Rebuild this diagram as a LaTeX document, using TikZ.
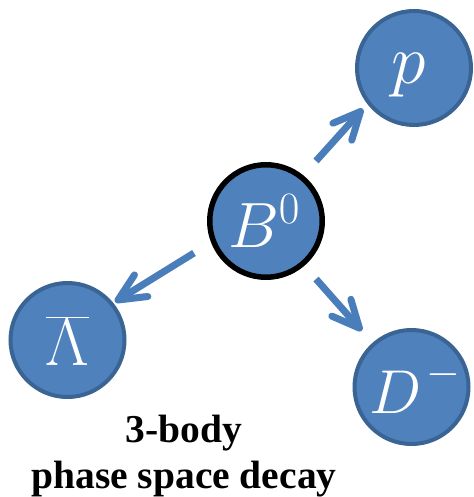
\RequirePackage{fix-cm}
\documentclass[tikz,border=0pt]{standalone}
\usepackage{fontspec}
\setmainfont{Liberation Serif}
\usetikzlibrary{calc}

\definecolor{ballfill}{HTML}{4F81BD}
\definecolor{ballring}{HTML}{3A6494}
\definecolor{arrowblue}{HTML}{4A7EBB}

\tikzset{
  particle/.style={circle, draw=ballring, fill=ballfill, line width=4pt,
    minimum size=114pt, inner sep=0pt},
  parent/.style={particle, draw=black, line width=5.5pt, minimum size=112.5pt},
  sym/.style={text=white, inner sep=0pt},
  shaft/.style={draw=arrowblue, line width=7pt, line cap=butt},
  barb/.style={draw=arrowblue, line width=7pt, line cap=round, line join=round},
  caption/.style={align=center, font=\rmfamily\bfseries\fontsize{39.5}{46}\selectfont}
}

\newcommand{\decayarrow}[2]{%
  \draw[shaft] (#1) -- (#2);
  \draw[barb] ($(#2)!30pt!25:(#1)$) -- (#2) -- ($(#2)!30pt!-25:(#1)$);
}

\begin{document}
\begin{tikzpicture}[x=1pt, y=-1pt]
  \useasboundingbox (0,0) rectangle (473,497);

  % particles, each with its symbol set at its centre
  \node[parent, label={[sym, xshift=-2pt,
      font=\fontsize{64}{64}\selectfont]center:$B^{0}$}] (B) at (266,221) {};
  \node[particle, label={[sym, xshift=-5pt, yshift=-7pt,
      font=\fontsize{70}{70}\selectfont]center:$p$}] (p) at (414,68) {};
  \node[particle, label={[sym, yshift=-1pt,
      font=\fontsize{68}{68}\selectfont]center:$\overline{\Lambda}$}] (Lam) at (67.5,340) {};
  \node[particle, label={[sym, xshift=4pt,
      font=\fontsize{62}{62}\selectfont]center:$D^{\mkern2mu\raisebox{5pt}{$\scriptstyle-$}}$}] (D) at (411.5,387) {};

  % arrow ends
  \coordinate (t1) at (316,161);   \coordinate (h1) at (360.5,111.5);
  \coordinate (t2) at (194,253);   \coordinate (h2) at (118,300);
  \coordinate (t3) at (316,279);   \coordinate (h3) at (359.4,328.1);

  \decayarrow{t1}{h1}
  \decayarrow{t2}{h2}
  \decayarrow{t3}{h3}

  % caption (base anchor sits on the last line)
  \node[caption, anchor=base] (cap) at (184,488) {3-body\\phase space decay};
\end{tikzpicture}
\end{document}
